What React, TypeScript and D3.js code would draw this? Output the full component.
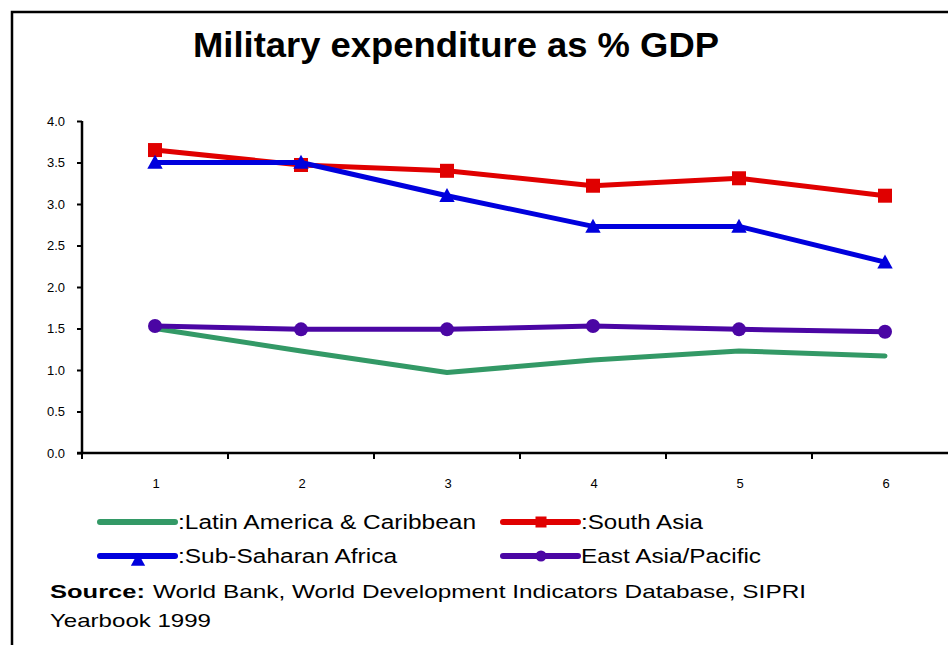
import { useEffect, useRef } from "react";
import * as d3 from "d3";

const years = [1, 2, 3, 4, 5, 6];
const latinAmerica = [1.5, 1.23, 0.97, 1.12, 1.23, 1.17];
const southAsia = [3.65, 3.47, 3.4, 3.22, 3.31, 3.1];
const subSaharan = [3.5, 3.5, 3.1, 2.73, 2.73, 2.3];
const eastAsia = [1.53, 1.49, 1.49, 1.53, 1.49, 1.46];
const yTicks = [0, 0.5, 1, 1.5, 2, 2.5, 3, 3.5, 4];

const series = [
    { name: ':Latin America & Caribbean', values: latinAmerica, color: '#339966', marker: 'none', lx: 100, ly: 522, tw: 298 },
    { name: ':South Asia', values: southAsia, color: '#e00000', marker: 'square', lx: 503, ly: 522, tw: 122 },
    { name: ':Sub-Saharan Africa', values: subSaharan, color: '#0000dd', marker: 'triangle', lx: 100, ly: 556, tw: 219 },
    { name: 'East Asia/Pacific', values: eastAsia, color: '#4b06a4', marker: 'circle', lx: 503, ly: 556, tw: 180 },
];

const W = 948;
const H = 645;
const FONT = 'Liberation Sans, Arial, sans-serif';

export default function App() {
    const svgRef = useRef<SVGSVGElement | null>(null);

    useEffect(() => {
        const svg = d3.select(svgRef.current);
        svg.selectAll('*').remove();

        const x0 = 82;
        const step = 146;
        const xScale = d3.scaleBand<number>()
            .domain(years)
            .range([x0, x0 + step * years.length])
            .padding(0);
        const yScale = d3.scaleLinear().domain([0, 4]).range([453, 121]);
        const cx = (d: number) => (xScale(d) as number) + xScale.bandwidth() / 2;

        // frame
        svg.append('path')
            .attr('d', `M12,${H} L12,12 L${W},12`)
            .attr('fill', 'none')
            .attr('stroke', '#000')
            .attr('stroke-width', 2.5);

        svg.append('text')
            .attr('x', 193)
            .attr('y', 57)
            .attr('textLength', 526)
            .attr('lengthAdjust', 'spacingAndGlyphs')
            .style('font-family', FONT)
            .style('font-weight', 'bold')
            .style('font-size', '35px')
            .text('Military expenditure as % GDP');

        // y axis
        const yAxis = svg.append('g').attr('transform', `translate(${x0},0)`)
            .call(d3.axisLeft(yScale).tickValues(yTicks).tickSize(5).tickFormat(d3.format('.1f')));
        yAxis.select('.domain').attr('stroke-width', 2.5).attr('d', `M0,${yScale(4)}V${yScale(0)}`);
        yAxis.selectAll('.tick line').attr('stroke-width', 2);
        yAxis.selectAll('.tick text')
            .attr('x', -17)
            .style('font-family', FONT)
            .style('font-size', '13px')
            .attr('fill', '#000');

        // x axis
        const xg = svg.append('g').attr('transform', `translate(0,${yScale(0)})`);
        xg.append('line')
            .attr('x1', x0 - 5).attr('x2', W)
            .attr('stroke', '#000').attr('stroke-width', 2.5);
        xg.selectAll('line.tk')
            .data(years)
            .join('line')
            .attr('class', 'tk')
            .attr('x1', d => xScale(d) as number)
            .attr('x2', d => xScale(d) as number)
            .attr('y1', 0).attr('y2', 6)
            .attr('stroke', '#000').attr('stroke-width', 2);
        xg.selectAll('text')
            .data(years)
            .join('text')
            .attr('x', d => cx(d) + 1)
            .attr('y', 35)
            .attr('text-anchor', 'middle')
            .style('font-family', FONT)
            .style('font-size', '13px')
            .text(d => d);

        const line = d3.line<number>()
            .x((_, i) => cx(years[i]))
            .y(d => yScale(d));

        const drawMarker = (g: any, kind: string, x: number, y: number, color: string, size: number) => {
            if (kind === 'square') {
                g.append('rect')
                    .attr('x', x - size / 2).attr('y', y - size / 2)
                    .attr('width', size).attr('height', size)
                    .attr('fill', color);
            } else if (kind === 'triangle') {
                const h = size;
                g.append('path')
                    .attr('d', `M${x},${y - h * 0.55} L${x + h * 0.55},${y + h * 0.45} L${x - h * 0.55},${y + h * 0.45} Z`)
                    .attr('fill', color);
            } else if (kind === 'circle') {
                g.append('circle')
                    .attr('cx', x).attr('cy', y).attr('r', size / 2)
                    .attr('fill', color);
            }
        };

        const plot = svg.append('g');
        series.forEach(s => {
            plot.append('path')
                .datum(s.values)
                .attr('d', line)
                .attr('fill', 'none')
                .attr('stroke', s.color)
                .attr('stroke-width', 5)
                .attr('stroke-linejoin', 'round')
                .attr('stroke-linecap', 'round');
            s.values.forEach((v, i) => {
                drawMarker(plot, s.marker, cx(years[i]), yScale(v), s.color, 14);
            });
        });

        // legend
        series.forEach(s => {
            const lg = svg.append('g');
            lg.append('line')
                .attr('x1', s.lx).attr('x2', s.lx + 75)
                .attr('y1', s.ly).attr('y2', s.ly)
                .attr('stroke', s.color).attr('stroke-width', 6)
                .attr('stroke-linecap', 'round');
            if (s.marker === 'triangle') {
                drawMarker(lg, 'triangle', s.lx + 38, s.ly + 4, s.color, 13);
            } else {
                drawMarker(lg, s.marker, s.lx + 38, s.ly, s.color, 11);
            }
            lg.append('text')
                .attr('x', s.lx + 78)
                .attr('y', s.ly + 7)
                .attr('textLength', s.tw)
                .attr('lengthAdjust', 'spacingAndGlyphs')
                .style('font-family', FONT)
                .style('font-size', '20px')
                .text(s.name);
        });

        svg.append('text')
            .attr('x', 50)
            .attr('y', 598)
            .attr('textLength', 95)
            .attr('lengthAdjust', 'spacingAndGlyphs')
            .style('font-family', FONT)
            .style('font-size', '19px')
            .style('font-weight', 'bold')
            .text('Source:');
        svg.append('text')
            .attr('x', 153)
            .attr('y', 598)
            .attr('textLength', 653)
            .attr('lengthAdjust', 'spacingAndGlyphs')
            .style('font-family', FONT)
            .style('font-size', '19px')
            .text('World Bank, World Development Indicators Database, SIPRI');
        svg.append('text')
            .attr('x', 50)
            .attr('y', 627)
            .attr('textLength', 161)
            .attr('lengthAdjust', 'spacingAndGlyphs')
            .style('font-family', FONT)
            .style('font-size', '19px')
            .text('Yearbook 1999');
    }, []);

    return (
        <svg
            ref={svgRef}
            width={W}
            height={H}
            style={{ position: 'absolute', left: 0, top: 0, background: '#fff', display: 'block' }}
        />
    );
}
